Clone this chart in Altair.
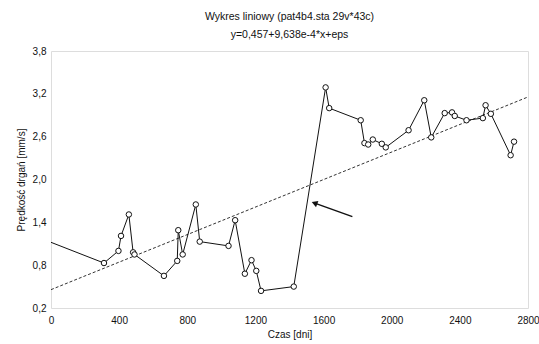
import altair as alt
import pandas as pd

# Measured series (czas [dni], prędkość drgań [mm/s])
days = [0, 311, 396, 411, 457, 482, 490, 663, 741, 747, 773, 850, 873, 1042, 1081,
        1138, 1177, 1205, 1233, 1425, 1612, 1633, 1818, 1840, 1862, 1889, 1942, 1965,
        2099, 2191, 2232, 2311, 2354, 2370, 2439, 2535, 2551, 2582, 2698, 2718]
vals = [1.12, 0.83, 1.00, 1.21, 1.51, 0.98, 0.95, 0.65, 0.86, 1.29, 0.95, 1.65, 1.13,
        1.07, 1.43, 0.68, 0.87, 0.72, 0.44, 0.50, 3.29, 3.00, 2.83, 2.51, 2.49, 2.56,
        2.50, 2.45, 2.69, 3.11, 2.59, 2.93, 2.94, 2.89, 2.83, 2.86, 3.04, 2.92, 2.34, 2.53]

# Regression line y = 0.457 + 9.638e-4 * x, end points
reg_x = [0, 2800]
reg_y = [0.457, 3.156]

# Arrow annotation (tail -> head)
arrow_x = [1769]
arrow_y = [1.48]
arrow_x2 = [1552]
arrow_y2 = [1.665]

x_ticks = [0, 400, 800, 1200, 1600, 2000, 2400, 2800]
y_ticks = [0.2, 0.8, 1.4, 2.0, 2.6, 3.2, 3.8]

title_lines = ["Wykres liniowy (pat4b4.sta 29v*43c)", "y=0,457+9,638e-4*x+eps"]
x_title = "Czas [dni]"
y_title = "Prędkość drgań [mm/s]"

df = pd.DataFrame({"day": days, "v": vals})
reg = pd.DataFrame({"day": reg_x, "v": reg_y})
arr = pd.DataFrame({"x": arrow_x, "y": arrow_y, "x2": arrow_x2, "y2": arrow_y2})

FONT = "Liberation Sans"

xscale = alt.Scale(domain=[0, 2800], nice=False, zero=False)
yscale = alt.Scale(domain=[0.2, 3.8], nice=False, zero=False)

xaxis = alt.Axis(values=x_ticks, title=x_title, ticks=False, domain=False, grid=False,
                 format="d",
                 labelPadding=7, titlePadding=4, labelFont=FONT, titleFont=FONT,
                 labelFontSize=10, titleFontSize=10, titleFontWeight="normal",
                 labelColor="#111", titleColor="#111", labelFlush=False)
yaxis = alt.Axis(values=y_ticks, title=y_title, ticks=False, domain=False, grid=False,
                 labelExpr="replace(format(datum.value, '.1f'), '.', ',')",
                 labelPadding=5, titlePadding=6, labelFont=FONT, titleFont=FONT,
                 labelFontSize=10, titleFontSize=10, titleFontWeight="normal",
                 labelColor="#111", titleColor="#111")

base = alt.Chart(df)

line = base.mark_line(color="#111", strokeWidth=1).encode(
    x=alt.X("day:Q", scale=xscale, axis=xaxis),
    y=alt.Y("v:Q", scale=yscale, axis=yaxis),
    order="day:Q",
)

pts = base.transform_filter("datum.day > 0").mark_point(
    shape="circle", filled=True, fill="white", stroke="#111", strokeWidth=1, size=30, opacity=1
).encode(x=alt.X("day:Q", scale=xscale), y=alt.Y("v:Q", scale=yscale))

regline = alt.Chart(reg).mark_line(color="#333", strokeWidth=1, strokeDash=[3, 2]).encode(
    x=alt.X("day:Q", scale=xscale), y=alt.Y("v:Q", scale=yscale)
)

arrow_shaft = alt.Chart(arr).mark_rule(color="#111", strokeWidth=1.5).encode(
    x=alt.X("x:Q", scale=xscale), y=alt.Y("y:Q", scale=yscale), x2="x2:Q", y2="y2:Q"
)
arrow_head = alt.Chart(arr).mark_point(shape="triangle", filled=True, color="#111",
                                       size=45, angle=291, opacity=1).encode(
    x=alt.X("x2:Q", scale=xscale), y=alt.Y("y2:Q", scale=yscale)
)

chart = alt.layer(regline, line, pts, arrow_shaft, arrow_head).properties(
    width=477, height=257,
    autosize=alt.AutoSizeParams(type="none"),
    padding={"left": 51, "top": 51, "right": 11, "bottom": 36},
    title=alt.TitleParams(text=title_lines, font=FONT, fontSize=10.5, fontWeight="normal",
                          anchor="middle", offset=6, lineHeight=18, color="#111"),
).configure_view(stroke="#111", strokeWidth=1.2).configure(background="white")

chart.save("out.html", embed_options={"renderer": "svg", "actions": False})
